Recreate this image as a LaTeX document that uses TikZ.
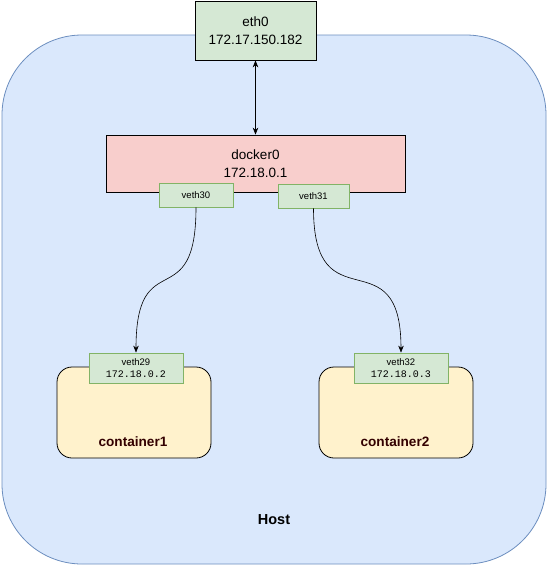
\documentclass[tikz,border=0pt]{standalone}
\usepackage{fontspec}
\setmainfont{Liberation Sans}
\setmonofont{Liberation Mono}
\usepackage{tikz}
\usetikzlibrary{arrows.meta}
\definecolor{hostfill}{HTML}{DAE8FC}
\definecolor{hostline}{HTML}{6C8EBF}
\definecolor{greenfill}{HTML}{D5E8D4}
\definecolor{greenline}{HTML}{82B366}
\definecolor{redfill}{HTML}{F8CECC}
\definecolor{yellowfill}{HTML}{FFF2CC}
\definecolor{labelred}{HTML}{330000}

\begin{document}
\begin{tikzpicture}[x=1pt, y=-1pt, line width=0.8pt,
  box/.style={draw, inner sep=0pt, align=center, font=\fontsize{13.5}{18.5}\selectfont},
  vethbox/.style={draw=greenline, fill=greenfill, inner sep=0pt, align=center, font=\fontsize{9.5}{12}\selectfont},
  ctbox/.style={draw, fill=yellowfill, rounded corners=15pt, minimum width=154pt, minimum height=91pt},
  ctlabel/.style={text=labelred, font=\fontsize{13.6}{16}\selectfont\bfseries}]
  \useasboundingbox (0,0) rectangle (548,566);
  \node (host) [draw=hostline, fill=hostfill, rounded corners=80pt, minimum width=544pt, minimum height=529pt] at (274,299.5) {};
  \node (hostlabel) [font=\fontsize{14.5}{17}\selectfont\bfseries] at (274,520) {Host};
  \node (eth0) [box, fill=greenfill, minimum width=121pt, minimum height=59pt] at (255.5,30.5) {eth0\\172.17.150.182};
  \node (docker0) [box, fill=redfill, minimum width=299pt, minimum height=57pt] at (255.5,163.5) {docker0\\172.18.0.1};
  \node (veth30) [vethbox, minimum width=74pt, minimum height=24pt] at (196,195) {veth30};
  \node (veth31) [vethbox, minimum width=71pt, minimum height=24pt] at (313.5,196) {veth31};
  \node (container1) [ctbox] at (134,412.5) {};
  \node (container2) [ctbox] at (396,412.5) {};
  \node (c1label) [ctlabel] at (133,442) {container1};
  \node (c2label) [ctlabel] at (395,442) {container2};
  \node (veth29) [vethbox, minimum width=94pt, minimum height=30pt] at (136,368) {veth29\\{\fontsize{10}{12}\selectfont\texttt{172.18.0.2}}};
  \node (veth32) [vethbox, minimum width=94pt, minimum height=30pt] at (401,368) {veth32\\{\fontsize{10}{12}\selectfont\texttt{172.18.0.3}}};
  \path[{Stealth[length=7pt,width=5.5pt]}-{Stealth[length=7pt,width=5.5pt]}, line width=0.6pt]
  (eth0) edge (docker0);
  \path[-{Stealth[length=7pt,width=5.5pt]}, line width=0.6pt]
  (veth30.south) edge [out=-90, in=90, looseness=1.8] (veth29.north)
  (veth31.south) edge [out=-90, in=90, looseness=1.8] (veth32.north)
  ;
\end{tikzpicture}
\end{document}
